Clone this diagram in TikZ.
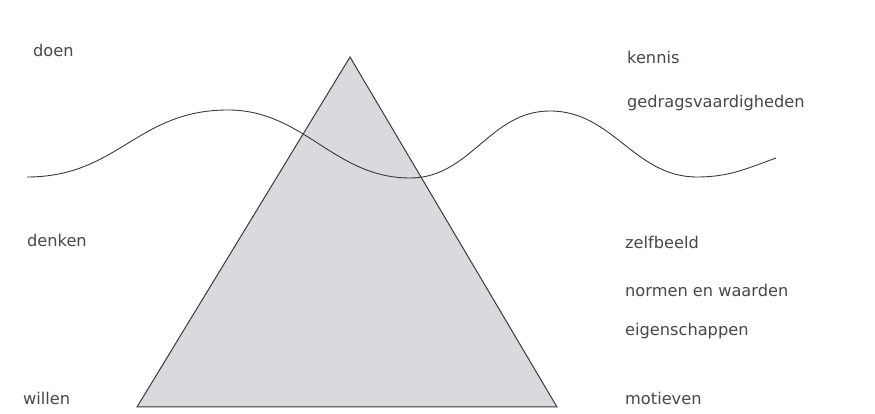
\documentclass[tikz,border=0pt]{standalone}
\usepackage{fontspec}
\setmainfont{DejaVu Sans}
\definecolor{inkgray}{HTML}{4A4548}
\definecolor{linegray}{HTML}{3A3A3A}
\definecolor{icegray}{HTML}{D8DADD}
\tikzset{
  lbl/.style={anchor=west, inner sep=0pt, text=inkgray, font=\fontsize{16.2}{19}\selectfont},
}
\begin{document}
\begin{tikzpicture}[x=1pt, y=1pt]
\useasboundingbox (0,0) rectangle (875,414);
% iceberg
\draw[linegray, line width=1pt, fill=icegray, line join=miter] (350,357) -- (137,7) -- (557,7) -- cycle;
% water line
\draw[linegray, line width=0.9pt] (27,237) to[out=0,in=180,looseness=1.1] (228,304) to[out=0,in=180] (410,236)
  to[out=0,in=180] (550,303) to[out=0,in=180] (697,237) to[out=0,in=200] (776,256);
% left labels
\node[lbl] (doen) at (33,364) {doen};
\node[lbl] (denken) at (27,174) {denken};
\node[lbl] (willen) at (23,16) {willen};
% right labels
\node[lbl] (kennis) at (627,357) {kennis};
\node[lbl] (gedrag) at (627,311) {gedragsvaardigheden};
\node[lbl] (zelf) at (625,172) {zelfbeeld};
\node[lbl] (normen) at (625,124) {normen en waarden};
\node[lbl] (eigen) at (625,83) {eigenschappen};
\node[lbl] (motief) at (625,16) {motieven};
\end{tikzpicture}
\end{document}
